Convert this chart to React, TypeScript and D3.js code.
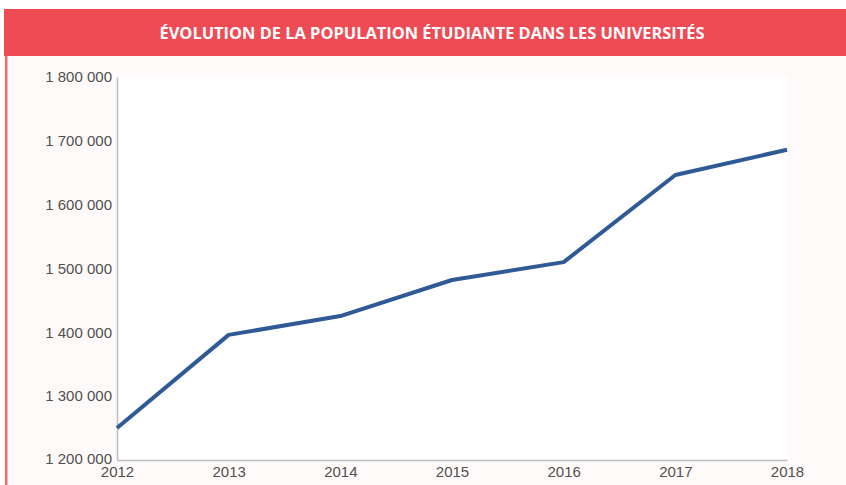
import React, { useEffect, useRef } from "react";
import * as d3 from "d3";

const years = [2012, 2013, 2014, 2015, 2016, 2017, 2018];
const students = [1250000, 1396000, 1425500, 1482000, 1510000, 1646500, 1686000];
const yTicks = [1200000, 1300000, 1400000, 1500000, 1600000, 1700000, 1800000];
const title = "ÉVOLUTION DE LA POPULATION ÉTUDIANTE DANS LES UNIVERSITÉS";

const App = () => {
    const ref = useRef<SVGSVGElement>(null);

    useEffect(() => {
        const svg = d3.select(ref.current);
        svg.selectAll("*").remove();
        const width = 846;
        const height = 485;
        const left = 117;
        const right = 787;
        const top = 77;
        const bottom = 460;
        const lineColor = "#2f5a96";
        const red = "#ef4b55";

        // page background + banner
        svg.append("rect").attr("width", width).attr("height", height).attr("fill", "#ffffff");
        svg.append("rect").attr("x", 6).attr("y", 56).attr("width", width - 6).attr("height", height - 56).attr("fill", "#fffafa");
        svg.append("rect").attr("x", 5).attr("y", 56).attr("width", 2.5).attr("height", height - 56).attr("fill", "#f06a70");
        svg.append("rect").attr("x", 4).attr("y", 9).attr("width", width - 4).attr("height", 47).attr("fill", red);
        svg.append("text")
            .text(title)
            .attr("x", 432)
            .attr("y", 39)
            .attr("text-anchor", "middle")
            .attr("fill", "white")
            .style("font-family", "'Open Sans', sans-serif")
            .style("font-weight", "700")
            .style("font-size", "16px")
            .attr("textLength", 545)
            .attr("lengthAdjust", "spacingAndGlyphs");

        // plot area
        svg.append("rect").attr("x", left).attr("y", top).attr("width", right - left).attr("height", bottom - top).attr("fill", "#ffffff");

        const xScale = d3.scaleLinear().domain([2012, 2018]).range([left, right]);
        const yScale = d3.scaleLinear().domain([1200000, 1800000]).range([bottom, top]);

        const fmt = (v: number) => d3.format(",")(v).replace(/,/g, " ");

        const yAxis = d3.axisLeft(yScale).tickValues(yTicks).tickFormat((d) => fmt(d as number)).tickSize(0).tickPadding(5);
        const gy = svg.append("g").attr("transform", "translate(" + left + ",0)").call(yAxis);
        gy.select(".domain").attr("stroke", "#bdbdbd").attr("stroke-width", 1.5);
        gy.selectAll("text")
            .style("font-family", "'Liberation Sans', Arial, sans-serif")
            .style("font-size", "15px")
            .attr("fill", "#505050");
        gy.selectAll(".tick").filter((d) => d === 1200000).select("text").attr("dy", "0.2em");

        const xAxis = d3.axisBottom(xScale).tickValues(years).tickFormat(d3.format("d")).tickSize(0).tickPadding(6);
        const gx = svg.append("g").attr("transform", "translate(0," + bottom + ")").call(xAxis);
        gx.select(".domain").attr("stroke", "#bdbdbd").attr("stroke-width", 1.5);
        gx.selectAll("text")
            .style("font-family", "'Liberation Sans', Arial, sans-serif")
            .style("font-size", "15px")
            .attr("fill", "#505050");

        const line = d3.line<number>()
            .x((d, i) => xScale(years[i]))
            .y((d) => yScale(d));

        svg.append("path")
            .datum(students)
            .attr("d", line)
            .attr("fill", "none")
            .attr("stroke", lineColor)
            .attr("stroke-width", 4)
            .attr("stroke-linejoin", "round");
    }, []);

    return (
        <svg ref={ref} width={846} height={485} style={{ position: "absolute", left: 0, top: 0 }} />
    );
};

export default App;
